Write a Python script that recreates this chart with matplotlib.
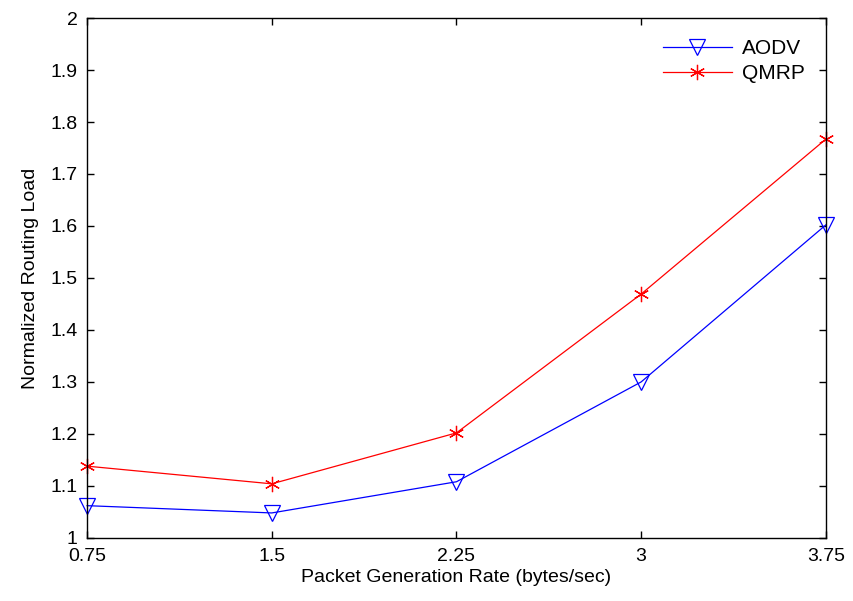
import matplotlib.pyplot as plt
import matplotlib.ticker as ticker

plt.rcParams["font.family"] = ["Liberation Sans", "DejaVu Sans"]

rates = [0.75, 1.5, 2.25, 3, 3.75]
aodv = [1.062, 1.048, 1.108, 1.300, 1.602]
qmrp = [1.138, 1.104, 1.202, 1.469, 1.767]
xtick_labels = ["0.75", "1.5", "2.25", "3", "3.75"]

fig = plt.figure(figsize=(8.54, 6.01), dpi=100)
ax = fig.add_axes([0.102, 0.105, 0.865, 0.865])

ax.plot(rates, aodv, color="blue", linewidth=0.9, marker="v", markersize=12,
        markerfacecolor="none", markeredgecolor="blue", markeredgewidth=0.9,
        label="AODV", clip_on=False)
ax.plot(rates, qmrp, color="red", linewidth=0.9, marker=(6, 2, 0), markersize=11,
        markeredgecolor="red", markeredgewidth=0.9, label="QMRP", clip_on=False)

ax.set_xlim(0.75, 3.75)
ax.set_ylim(1, 2)
ax.set_xticks(rates)
ax.set_xticklabels(xtick_labels)
ax.yaxis.set_major_locator(ticker.MultipleLocator(0.1))
ax.yaxis.set_major_formatter(ticker.FuncFormatter(lambda v, p: f"{v:g}"))

ax.tick_params(direction="in", top=True, right=True, labelsize=14, length=5, width=1)
ax.tick_params(axis="x", pad=7)
ax.tick_params(axis="y", pad=7)
for s in ax.spines.values():
    s.set_linewidth(1)

ax.set_xlabel("Packet Generation Rate (bytes/sec)", fontsize=14, labelpad=3)
ax.set_ylabel("Normalized Routing Load", fontsize=14, labelpad=8)

ax.legend(loc="upper right", frameon=False, fontsize=15, handlelength=3.3,
          borderaxespad=0.6, labelspacing=0.3, handletextpad=0.5)

fig.savefig("out.png", dpi=100)
